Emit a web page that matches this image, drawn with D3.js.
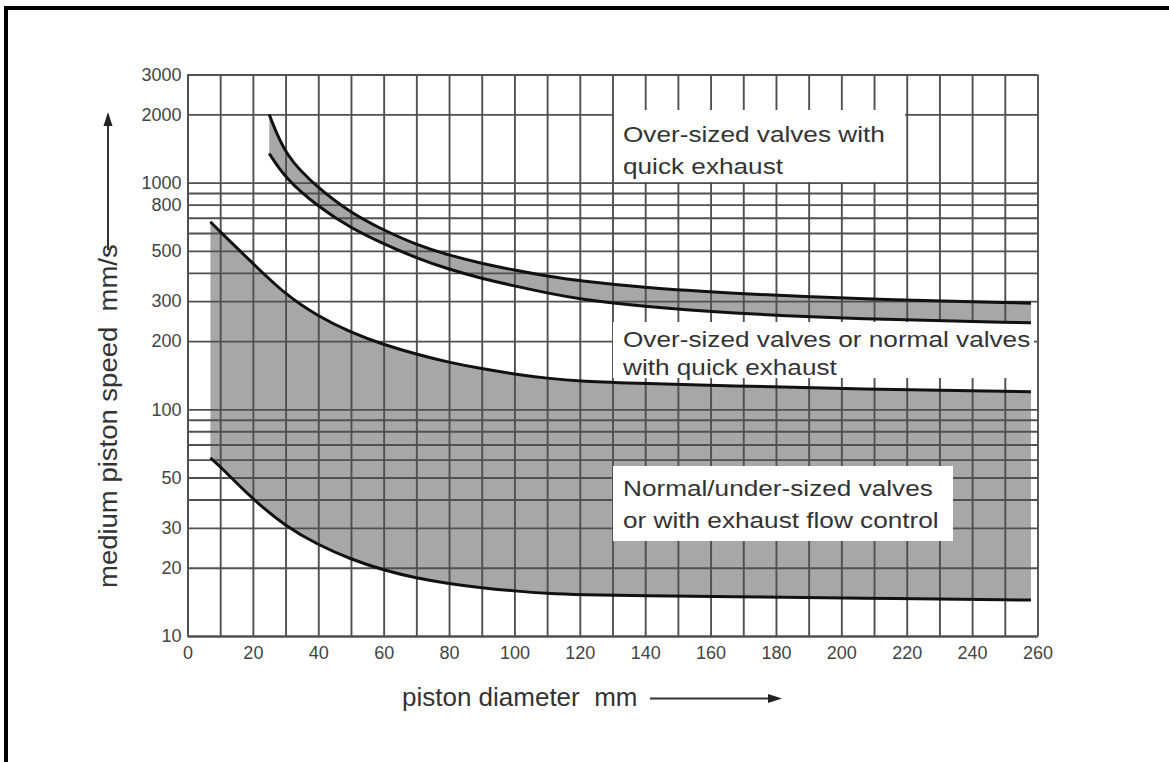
<!DOCTYPE html>
<html>
<head>
<meta charset="utf-8">
<script src="https://cdn.jsdelivr.net/npm/d3@7"></script>
<style>
  html, body { margin: 0; padding: 0; background: #fff; }
  text { font-family: "Liberation Sans", Arial, sans-serif; }
</style>
</head>
<body>
<svg id="chart" width="1169" height="762"></svg>
<script>
// piston diameter (mm) sample points
const bandLowX = [7, 10, 20, 30, 40, 50, 60, 70, 80, 90, 100, 110, 120, 140, 165, 205, 258];
// lower edge of the big grey area (normal/under-sized valves)
const slowSpeed = [61, 56, 40, 30.5, 25.2, 21.8, 19.5, 18.0, 17.0, 16.3, 15.8, 15.4, 15.2, 15.05, 14.9, 14.7, 14.4];
// upper edge of the big grey area
const midSpeed = [672, 607, 440, 320, 257, 218, 193, 175, 161, 151, 143, 137, 133, 130, 127, 123, 119.5];

const bandHighX = [25, 30, 40, 50, 60, 70, 80, 90, 100, 110, 120, 140, 165, 205, 258];
// upper band (over-sized valves with quick exhaust)
const fastLow = [1345, 1040, 782, 630, 537, 465, 414, 378, 350, 326, 306, 284, 266, 250, 241];
const fastHigh = [2000, 1300, 945, 735, 617, 532, 478, 440, 411, 387, 369, 344, 326, 306, 294];

const xGrid = [0, 10, 20, 30, 40, 50, 60, 70, 80, 90, 100, 110, 120, 130, 140, 150, 160, 170, 180, 190, 200, 210, 220, 230, 240, 250, 260];
const xLabels = [0, 20, 40, 60, 80, 100, 120, 140, 160, 180, 200, 220, 240, 260];
const yGrid = [10, 20, 30, 40, 50, 60, 70, 80, 90, 100, 200, 300, 400, 500, 600, 700, 800, 900, 1000, 2000, 3000];
const yLabels = [10, 20, 30, 50, 100, 200, 300, 500, 800, 1000, 2000, 3000];

const notes = [
  { lines: ['Over-sized valves with', 'quick exhaust'], box: [614, 110, 291, 72], y0: 141.5, gap: 32.5 },
  { lines: ['Over-sized valves or normal valves', 'with quick exhaust'], box: [613, 322, 421, 56], y0: 347, gap: 28 },
  { lines: ['Normal/under-sized valves', 'or with exhaust flow control'], box: [613, 466, 340, 75], y0: 495.5, gap: 32.5 }
];

const svg = d3.select('#chart');

// outer frame
svg.append('rect')
  .attr('x', 6).attr('y', 8)
  .attr('width', 1200).attr('height', 800)
  .attr('fill', 'none')
  .attr('stroke', '#000')
  .attr('stroke-width', 4);

const plotL = 187.5, plotR = 1037.5, plotT = 74.5, plotB = 636;

const x = d3.scaleLinear().domain([0, 260]).range([plotL, plotR]);
const y = d3.scaleLog().domain([10, 3000]).range([plotB, plotT]);

const curveLine = d3.line().x((d) => x(d[0])).y((d) => y(d[1])).curve(d3.curveBasis);

const band = (xs, lo, hi) =>
  d3.area()
    .x((d, i) => x(xs[i]))
    .y0((d, i) => y(lo[i]))
    .y1((d, i) => y(hi[i]))
    .curve(d3.curveBasis)(xs);

// grey bands
svg.append('path').attr('d', band(bandLowX, slowSpeed, midSpeed)).attr('fill', '#a7a7a7');
svg.append('path').attr('d', band(bandHighX, fastLow, fastHigh)).attr('fill', '#a7a7a7');

// grid via axes
const gridColor = '#505050';

const xAxis = svg.append('g')
  .attr('transform', `translate(0,${plotB})`)
  .call(
    d3.axisBottom(x)
      .tickValues(xGrid)
      .tickSize(-(plotB - plotT))
      .tickSizeOuter(0)
      .tickPadding(10)
      .tickFormat((d) => (xLabels.includes(d) ? d : ''))
  );

const yAxis = svg.append('g')
  .attr('transform', `translate(${plotL},0)`)
  .call(
    d3.axisLeft(y)
      .tickValues(yGrid)
      .tickSize(-(plotR - plotL))
      .tickSizeOuter(0)
      .tickPadding(6)
      .tickFormat((d) => (yLabels.includes(d) ? d : ''))
  );

[xAxis, yAxis].forEach((g) => {
  g.selectAll('line').attr('stroke', gridColor).attr('stroke-width', 1.9);
  g.select('.domain').attr('stroke', gridColor).attr('stroke-width', 1.9);
  g.selectAll('text')
    .attr('fill', '#444')
    .style('font-size', '18px')
    .style('font-family', '"Liberation Sans", Arial, sans-serif');
});

// white note boxes
notes.forEach((n) => {
  svg.append('rect')
    .attr('x', n.box[0]).attr('y', n.box[1])
    .attr('width', n.box[2]).attr('height', n.box[3])
    .attr('fill', '#fff');
});

// curves on top
const curves = [
  [bandLowX, slowSpeed],
  [bandLowX, midSpeed],
  [bandHighX, fastLow],
  [bandHighX, fastHigh]
];
curves.forEach(([xs, vs]) => {
  svg.append('path')
    .attr('d', curveLine(xs.map((v, i) => [v, vs[i]])))
    .attr('fill', 'none')
    .attr('stroke', '#111')
    .attr('stroke-width', 3);
});

// note text
notes.forEach((n) => {
  n.lines.forEach((t, i) => {
    svg.append('text')
      .attr('transform', `translate(623,${n.y0 + i * n.gap}) scale(1.19,1)`)
      .attr('fill', '#333')
      .style('font-size', '22px')
      .text(t);
  });
});

// axis titles
svg.append('text')
  .attr('transform', 'translate(402,706) scale(1.04,1)')
  .attr('fill', '#333')
  .style('font-size', '25px')
  .style('white-space', 'pre')
  .text('piston diameter  mm');

svg.append('text')
  .attr('transform', 'translate(117,588) rotate(-90) scale(1.1,1)')
  .attr('fill', '#333')
  .style('font-size', '25px')
  .style('white-space', 'pre')
  .text('medium piston speed  mm/s');

// arrows
svg.append('line')
  .attr('x1', 650).attr('y1', 698.5).attr('x2', 770).attr('y2', 698.5)
  .attr('stroke', '#333').attr('stroke-width', 2);
svg.append('path')
  .attr('d', 'M782,698.5 L768,694 L768,703 Z')
  .attr('fill', '#222');

svg.append('line')
  .attr('x1', 108).attr('y1', 250).attr('x2', 108).attr('y2', 124)
  .attr('stroke', '#333').attr('stroke-width', 2);
svg.append('path')
  .attr('d', 'M108,112 L103.5,126 L112.5,126 Z')
  .attr('fill', '#222');
</script>
</body>
</html>
